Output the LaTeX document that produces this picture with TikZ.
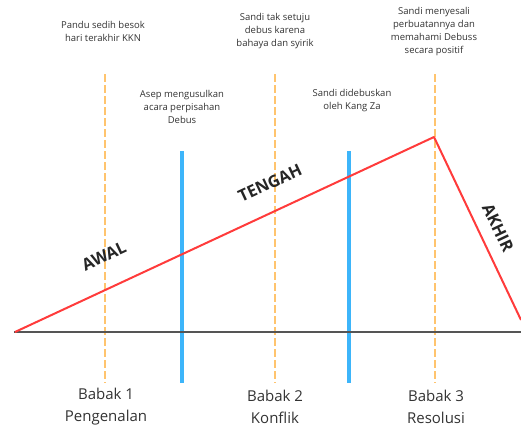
\documentclass[tikz,border=0pt]{standalone}
\usepackage{fontspec}
\setmainfont{Open Sans}
\definecolor{txt}{HTML}{333333}
\definecolor{redline}{HTML}{FF3B3B}
\definecolor{orangeline}{HTML}{FFC46E}
\definecolor{blueline}{HTML}{3DB5FA}
\definecolor{axis}{HTML}{555555}
\begin{document}
\begin{tikzpicture}[x=1pt,y=-1pt,
  small/.style={font=\fontsize{9.5}{13}\selectfont, text=txt, align=center, inner sep=0pt},
  big/.style={font=\fontsize{15}{22}\selectfont, text=txt, align=center, inner sep=0pt},
  phase/.style={font=\fontsize{16.5}{18}\selectfont\bfseries, text=black!85, inner sep=0pt},
  guide/.style={draw=orangeline, line width=1.5pt, dash pattern=on 8pt off 3pt},
  divider/.style={draw=blueline, line width=3.5pt},
  plot/.style={draw=redline, line width=2pt, line join=round},
  axisline/.style={draw=axis, line width=2pt}]
\useasboundingbox (0,0) rectangle (521,428);
% coordinates
\coordinate (a0) at (14,332);
\coordinate (a1) at (521,332);
\coordinate (o1t) at (105,74);  \coordinate (o1b) at (105,383);
\coordinate (o2t) at (275,74);  \coordinate (o2b) at (275,383);
\coordinate (o3t) at (435,74);  \coordinate (o3b) at (435,383);
\coordinate (b1t) at (182,151); \coordinate (b1b) at (182,383);
\coordinate (b2t) at (349,151); \coordinate (b2b) at (349,383);
\coordinate (r0) at (15,332);
\coordinate (r1) at (434,137);
\coordinate (r2) at (521,320);
% guides
\draw[guide] (o1t) -- (o1b);
\draw[guide] (o2t) -- (o2b);
\draw[guide] (o3t) -- (o3b);
\draw[divider] (b1t) -- (b1b);
\draw[divider] (b2t) -- (b2b);
\draw[axisline] (a0) -- (a1);
\draw[plot] (r0) -- (r1) -- (r2);
% top texts
\node[small] (t1) at (103,31) {Pandu sedih besok\\hari terakhir KKN};
\node[small] (t2) at (275,31) {Sandi tak setuju\\debus karena\\bahaya dan syirik};
\node[small] (t3) at (434,32) {Sandi menyesali\\perbuatannya dan\\memahami Debuss\\secara positif};
\node[small] (t4) at (182,107) {Asep mengusulkan\\acara perpisahan\\Debus};
\node[small] (t5) at (352,101) {Sandi didebuskan\\oleh Kang Za};
% phases
\node[phase, rotate=25] (p1) at (104,256) {AWAL};
\node[phase, rotate=25] (p2) at (270,183) {TENGAH};
\node[phase, rotate=-64.6] (p3) at (498,228) {AKHIR};
% bottom
\node[big] (g1) at (106,407) {Babak 1\\Pengenalan};
\node[big] (g2) at (275,407) {Babak 2\\Konflik};
\node[big] (g3) at (436,407) {Babak 3\\Resolusi};
\end{tikzpicture}
\end{document}
